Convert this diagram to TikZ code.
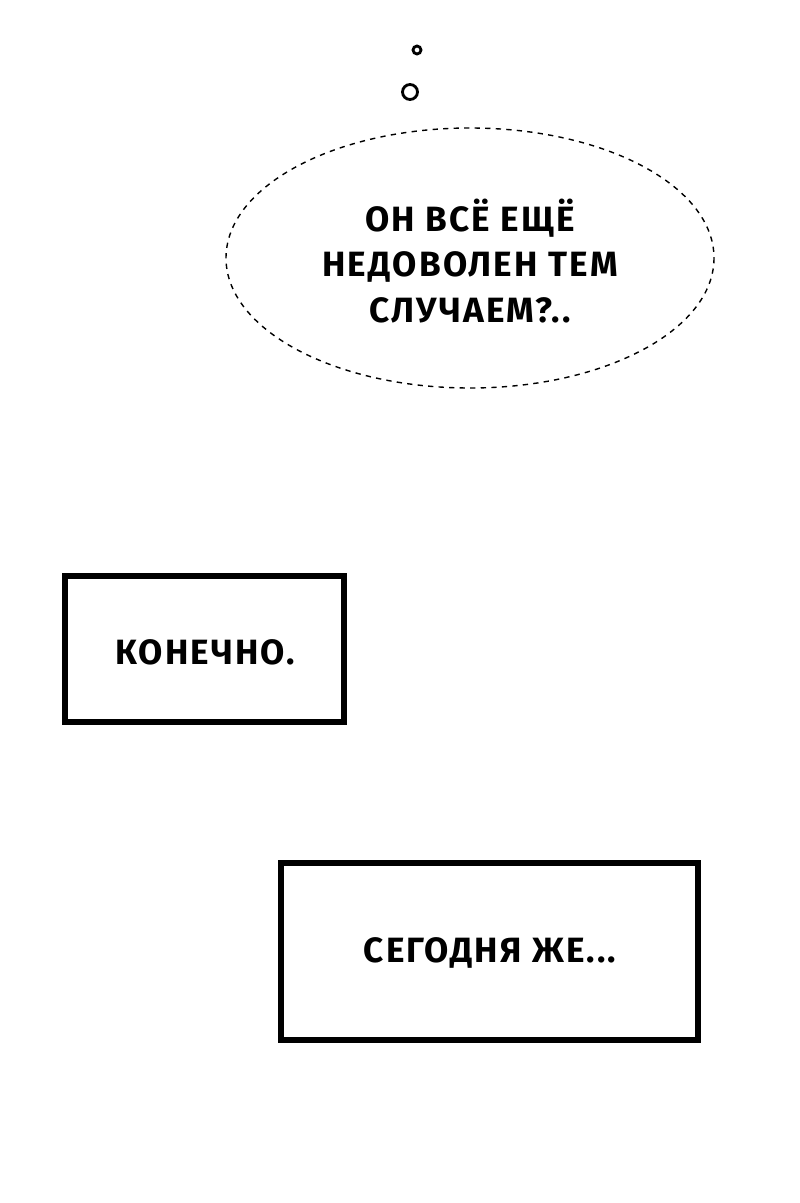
\documentclass[tikz,border=0pt]{standalone}
\usepackage{fontspec}
\setmainfont{Fira Sans}
\begin{document}
\begin{tikzpicture}[x=0.02cm,y=-0.02cm,
  txt/.style={font=\bfseries\fontsize{20}{26}\selectfont\addfontfeature{LetterSpace=6},align=center,text=black},
  box/.style={draw=black,line width=3.5pt}]
\useasboundingbox (0,0) rectangle (800,1203);
\fill[white] (0,0) rectangle (800,1203);
\draw[line width=1.6pt] (417,50) circle[radius=4];
\draw[line width=1.6pt] (410,92) circle[radius=7.5];
\draw[dashed,line width=0.8pt] (470,258) ellipse[x radius=244,y radius=130];
\node[txt] (t1) at (470,261) {ОН ВСЁ ЕЩЁ\\НЕДОВОЛЕН ТЕМ\\СЛУЧАЕМ?..};
\draw[box] (65,576) rectangle (344,722);
\node[txt] (t2) at (205,652) {КОНЕЧНО.};
\draw[box] (281,863) rectangle (698,1040);
\node[txt] (t3) at (490,953) {СЕГОДНЯ ЖЕ...};
\end{tikzpicture}
\end{document}
